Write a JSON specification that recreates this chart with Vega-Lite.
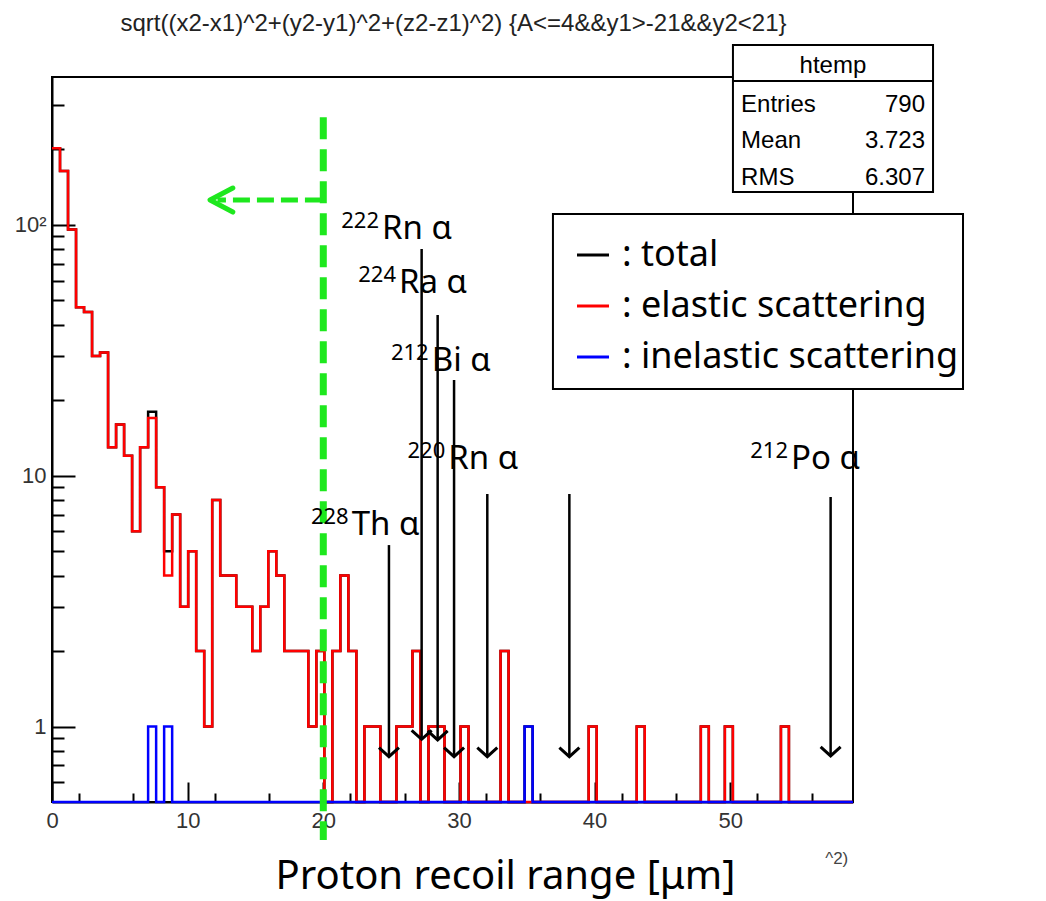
{
  "$schema": "https://vega.github.io/schema/vega-lite/v6.json",
  "width": 801,
  "height": 725,
  "autosize": {"type": "none"},
  "padding": {"left": 52, "top": 77, "right": 193, "bottom": 99},
  "background": "white",
  "config": {
    "view": {"stroke": "black", "strokeWidth": 2},
    "axis": {"grid": false}
  },
  "datasets": {
    "hist": [
      {"x":0,"total":202,"elastic":202,"inelastic":0},
      {"x":0.591,"total":164,"elastic":164,"inelastic":0},
      {"x":1.181,"total":96,"elastic":96,"inelastic":0},
      {"x":1.772,"total":47,"elastic":47,"inelastic":0},
      {"x":2.362,"total":45,"elastic":45,"inelastic":0},
      {"x":2.953,"total":30,"elastic":30,"inelastic":0},
      {"x":3.543,"total":31,"elastic":31,"inelastic":0},
      {"x":4.134,"total":13,"elastic":13,"inelastic":0},
      {"x":4.724,"total":16,"elastic":16,"inelastic":0},
      {"x":5.315,"total":12,"elastic":12,"inelastic":0},
      {"x":5.905,"total":6,"elastic":6,"inelastic":0},
      {"x":6.496,"total":13,"elastic":13,"inelastic":0},
      {"x":7.086,"total":18,"elastic":17,"inelastic":1},
      {"x":7.677,"total":9,"elastic":9,"inelastic":0},
      {"x":8.267,"total":5,"elastic":4,"inelastic":1},
      {"x":8.858,"total":7,"elastic":7,"inelastic":0},
      {"x":9.448,"total":3,"elastic":3,"inelastic":0},
      {"x":10.039,"total":5,"elastic":5,"inelastic":0},
      {"x":10.629,"total":2,"elastic":2,"inelastic":0},
      {"x":11.22,"total":1,"elastic":1,"inelastic":0},
      {"x":11.81,"total":8,"elastic":8,"inelastic":0},
      {"x":12.401,"total":4,"elastic":4,"inelastic":0},
      {"x":12.991,"total":4,"elastic":4,"inelastic":0},
      {"x":13.582,"total":3,"elastic":3,"inelastic":0},
      {"x":14.172,"total":3,"elastic":3,"inelastic":0},
      {"x":14.763,"total":2,"elastic":2,"inelastic":0},
      {"x":15.353,"total":3,"elastic":3,"inelastic":0},
      {"x":15.944,"total":5,"elastic":5,"inelastic":0},
      {"x":16.534,"total":4,"elastic":4,"inelastic":0},
      {"x":17.125,"total":2,"elastic":2,"inelastic":0},
      {"x":17.715,"total":2,"elastic":2,"inelastic":0},
      {"x":18.306,"total":2,"elastic":2,"inelastic":0},
      {"x":18.896,"total":1,"elastic":1,"inelastic":0},
      {"x":19.487,"total":2,"elastic":2,"inelastic":0},
      {"x":20.077,"total":0,"elastic":0,"inelastic":0},
      {"x":20.668,"total":2,"elastic":2,"inelastic":0},
      {"x":21.258,"total":4,"elastic":4,"inelastic":0},
      {"x":21.849,"total":2,"elastic":2,"inelastic":0},
      {"x":22.439,"total":0,"elastic":0,"inelastic":0},
      {"x":23.03,"total":1,"elastic":1,"inelastic":0},
      {"x":23.62,"total":1,"elastic":1,"inelastic":0},
      {"x":24.211,"total":0,"elastic":0,"inelastic":0},
      {"x":24.801,"total":0,"elastic":0,"inelastic":0},
      {"x":25.392,"total":1,"elastic":1,"inelastic":0},
      {"x":25.982,"total":1,"elastic":1,"inelastic":0},
      {"x":26.573,"total":2,"elastic":2,"inelastic":0},
      {"x":27.163,"total":0,"elastic":0,"inelastic":0},
      {"x":27.754,"total":1,"elastic":1,"inelastic":0},
      {"x":28.344,"total":1,"elastic":1,"inelastic":0},
      {"x":28.935,"total":0,"elastic":0,"inelastic":0},
      {"x":29.525,"total":0,"elastic":0,"inelastic":0},
      {"x":30.116,"total":1,"elastic":1,"inelastic":0},
      {"x":30.706,"total":0,"elastic":0,"inelastic":0},
      {"x":31.297,"total":0,"elastic":0,"inelastic":0},
      {"x":31.887,"total":0,"elastic":0,"inelastic":0},
      {"x":32.478,"total":0,"elastic":0,"inelastic":0},
      {"x":33.068,"total":2,"elastic":2,"inelastic":0},
      {"x":33.659,"total":0,"elastic":0,"inelastic":0},
      {"x":34.249,"total":0,"elastic":0,"inelastic":0},
      {"x":34.84,"total":1,"elastic":0,"inelastic":1},
      {"x":35.43,"total":0,"elastic":0,"inelastic":0},
      {"x":36.021,"total":0,"elastic":0,"inelastic":0},
      {"x":36.611,"total":0,"elastic":0,"inelastic":0},
      {"x":37.202,"total":0,"elastic":0,"inelastic":0},
      {"x":37.792,"total":0,"elastic":0,"inelastic":0},
      {"x":38.383,"total":0,"elastic":0,"inelastic":0},
      {"x":38.973,"total":0,"elastic":0,"inelastic":0},
      {"x":39.564,"total":1,"elastic":1,"inelastic":0},
      {"x":40.154,"total":0,"elastic":0,"inelastic":0},
      {"x":40.745,"total":0,"elastic":0,"inelastic":0},
      {"x":41.335,"total":0,"elastic":0,"inelastic":0},
      {"x":41.926,"total":0,"elastic":0,"inelastic":0},
      {"x":42.516,"total":0,"elastic":0,"inelastic":0},
      {"x":43.107,"total":1,"elastic":1,"inelastic":0},
      {"x":43.697,"total":0,"elastic":0,"inelastic":0},
      {"x":44.288,"total":0,"elastic":0,"inelastic":0},
      {"x":44.878,"total":0,"elastic":0,"inelastic":0},
      {"x":45.469,"total":0,"elastic":0,"inelastic":0},
      {"x":46.059,"total":0,"elastic":0,"inelastic":0},
      {"x":46.65,"total":0,"elastic":0,"inelastic":0},
      {"x":47.24,"total":0,"elastic":0,"inelastic":0},
      {"x":47.831,"total":1,"elastic":1,"inelastic":0},
      {"x":48.421,"total":0,"elastic":0,"inelastic":0},
      {"x":49.012,"total":0,"elastic":0,"inelastic":0},
      {"x":49.602,"total":1,"elastic":1,"inelastic":0},
      {"x":50.193,"total":0,"elastic":0,"inelastic":0},
      {"x":50.783,"total":0,"elastic":0,"inelastic":0},
      {"x":51.374,"total":0,"elastic":0,"inelastic":0},
      {"x":51.964,"total":0,"elastic":0,"inelastic":0},
      {"x":52.555,"total":0,"elastic":0,"inelastic":0},
      {"x":53.145,"total":0,"elastic":0,"inelastic":0},
      {"x":53.736,"total":1,"elastic":1,"inelastic":0},
      {"x":54.326,"total":0,"elastic":0,"inelastic":0},
      {"x":54.917,"total":0,"elastic":0,"inelastic":0},
      {"x":55.507,"total":0,"elastic":0,"inelastic":0},
      {"x":56.098,"total":0,"elastic":0,"inelastic":0},
      {"x":56.688,"total":0,"elastic":0,"inelastic":0},
      {"x":57.279,"total":0,"elastic":0,"inelastic":0},
      {"x":57.869,"total":0,"elastic":0,"inelastic":0},
      {"x":58.46,"total":0,"elastic":0,"inelastic":0},
      {"x":59.05,"total":0,"elastic":0,"inelastic":0}
    ],
    "arrows": [
      {"nuclide":"222Rn","x":27.25,"top":80.2,"tip":0.889},
      {"nuclide":"224Ra","x":28.43,"top":43.7,"tip":0.884},
      {"nuclide":"212Bi","x":29.64,"top":24.07,"tip":0.758},
      {"nuclide":"220Rn","x":32.09,"top":8.45,"tip":0.758},
      {"nuclide":"216Po","x":38.14,"top":8.45,"tip":0.758},
      {"nuclide":"212Po","x":57.4,"top":8.22,"tip":0.763},
      {"nuclide":"228Th","x":24.84,"top":5.29,"tip":0.758}
    ],
    "isotopes": [
      {"mass":"222","name":"Rn α","x":24.33,"y":87.9},
      {"mass":"224","name":"Ra α","x":25.58,"y":53.4},
      {"mass":"212","name":"Bi α","x":27.99,"y":26.2},
      {"mass":"220","name":"Rn α","x":29.21,"y":10.6},
      {"mass":"212","name":"Po α","x":54.48,"y":10.6},
      {"mass":"228","name":"Th α","x":22.09,"y":5.8}
    ],
    "stats": [
      {"label":"Entries","value":"790","y":282.2},
      {"label":"Mean","value":"3.723","y":202.6},
      {"label":"RMS","value":"6.307","y":144.2}
    ]
  },
  "resolve": {"scale": {"x": "independent", "y": "independent"}},
  "layer": [
    {
      "data": {"name": "hist"},
      "layer": [
        {
          "mark": {"type": "line", "interpolate": "step-after", "strokeWidth": 2.5, "invalid": "show"},
          "encoding": {
            "x": {"field": "x", "type": "quantitative",
              "scale": {"domain": [0, 59.05], "nice": false, "zero": false},
              "axis": {"orient": "bottom", "values": [0, 10, 20, 30, 40, 50], "tickSize": -20, "tickColor": "black", "tickWidth": 2,
                "domain": true, "domainColor": "black", "domainWidth": 2,
                "labelFont": "Liberation Sans", "labelFontSize": 22, "labelColor": "#333333", "labelPadding": 28,
                "labelFlush": false, "labelOverlap": false,
                "title": "Proton recoil range [μm]", "titleFont": "Noto Sans", "titleFontSize": 40, "titleFontWeight": "normal",
                "titleColor": "black", "titleX": 453, "titleY": 86, "titleAlign": "center", "titleBaseline": "alphabetic"}},
            "y": {"field": "total", "type": "quantitative",
              "scale": {"type": "log", "domain": [0.5, 389], "nice": false, "clamp": true},
              "axis": {"orient": "left", "values": [1, 10, 100], "tickSize": -23, "tickColor": "black", "tickWidth": 2,
                "domain": true, "domainColor": "black", "domainWidth": 2,
                "labelFont": "Liberation Sans", "labelFontSize": 22, "labelColor": "#333333", "labelPadding": 29,
                "labelExpr": "datum.value == 100 ? '10²' : datum.value == 10 ? '10' : '1'", "labelFlush": false, "title": null}},
            "color": {"datum": "total", "type": "nominal",
              "scale": {"domain": ["total", "elastic scattering", "inelastic scattering"], "range": ["#000000", "#ff0000", "#0000ff"]},
              "legend": {"orient": "none", "legendX": 523, "legendY": 160, "title": null, "direction": "vertical",
                "padding": 0, "rowPadding": 15,
                "symbolType": "stroke", "symbolSize": 1024, "symbolStrokeWidth": 3, "labelOffset": 11,
                "labelFont": "Noto Sans", "labelFontSize": 36, "labelColor": "black", "labelLimit": 600,
                "labelExpr": "': ' + datum.label"}}
          }
        },
        {
          "mark": {"type": "line", "interpolate": "step-after", "strokeWidth": 2.5, "invalid": "show"},
          "encoding": {
            "x": {"field": "x", "type": "quantitative"},
            "y": {"field": "elastic", "type": "quantitative"},
            "color": {"datum": "elastic scattering", "type": "nominal"}
          }
        },
        {
          "mark": {"type": "line", "interpolate": "step-after", "strokeWidth": 2.5, "invalid": "show"},
          "encoding": {
            "x": {"field": "x", "type": "quantitative"},
            "y": {"field": "inelastic", "type": "quantitative"},
            "color": {"datum": "inelastic scattering", "type": "nominal"}
          }
        }
      ]
    },
    {
      "layer": [
        {
          "data": {"values": [{"box": "stats", "x": 50.2, "x2": 64.95, "y": 521.7, "y2": 135.3}, {"box": "legend", "x": 36.93, "x2": 67.16, "y": 110.5, "y2": 22.17}]},
          "mark": {"type": "rect", "fill": "white", "stroke": "black", "strokeWidth": 2},
          "encoding": {
            "x": {"field": "x", "type": "quantitative",
              "scale": {"domain": [0, 59.05], "nice": false, "zero": false},
              "axis": {"orient": "bottom", "values": [2, 4, 6, 8, 12, 14, 16, 18, 22, 24, 26, 28, 32, 34, 36, 38, 42, 44, 46, 48, 52, 54, 56, 58],
                "tickSize": -9, "tickColor": "black", "tickWidth": 2, "labels": false, "domain": false, "title": null}},
            "x2": {"field": "x2"},
            "y": {"field": "y", "type": "quantitative",
              "scale": {"type": "log", "domain": [0.5, 389], "nice": false},
              "axis": {"orient": "left", "values": [0.6, 0.7, 0.8, 0.9, 2, 3, 4, 5, 6, 7, 8, 9, 20, 30, 40, 50, 60, 70, 80, 90, 200, 300],
                "tickSize": -12, "tickColor": "black", "tickWidth": 2, "labels": false, "domain": false, "title": null}},
            "y2": {"field": "y2"}
          }
        },
        {
          "data": {"values": [{"x": 50.2, "x2": 64.95, "y": 374.9}]},
          "mark": {"type": "rule", "stroke": "black", "strokeWidth": 2},
          "encoding": {
            "x": {"field": "x", "type": "quantitative"},
            "x2": {"field": "x2"},
            "y": {"field": "y", "type": "quantitative"}
          }
        },
        {
          "data": {"values": [{"t": "htemp", "x": 57.57, "y": 403.5}]},
          "mark": {"type": "text", "font": "Liberation Sans", "fontSize": 24, "align": "center", "baseline": "alphabetic", "color": "black"},
          "encoding": {
            "x": {"field": "x", "type": "quantitative"},
            "y": {"field": "y", "type": "quantitative"},
            "text": {"field": "t"}
          }
        },
        {
          "data": {"name": "stats"},
          "mark": {"type": "text", "font": "Liberation Sans", "fontSize": 24, "align": "left", "baseline": "alphabetic", "color": "black"},
          "encoding": {
            "x": {"datum": 50.8, "type": "quantitative"},
            "y": {"field": "y", "type": "quantitative"},
            "text": {"field": "label"}
          }
        },
        {
          "data": {"name": "stats"},
          "mark": {"type": "text", "font": "Liberation Sans", "fontSize": 24, "align": "right", "baseline": "alphabetic", "color": "black"},
          "encoding": {
            "x": {"datum": 64.36, "type": "quantitative"},
            "y": {"field": "y", "type": "quantitative"},
            "text": {"field": "value"}
          }
        },
        {
          "data": {"values": [{"x": 20.0, "y": 269, "y2": 0.353}]},
          "mark": {"type": "rule", "stroke": "#1ee81e", "strokeWidth": 7, "strokeDash": [22, 10]},
          "encoding": {
            "x": {"field": "x", "type": "quantitative"},
            "y": {"field": "y", "type": "quantitative"},
            "y2": {"field": "y2"}
          }
        },
        {
          "data": {"values": [{"x": 19.9, "x2": 12.2, "y": 125.7}]},
          "mark": {"type": "rule", "stroke": "#1ee81e", "strokeWidth": 5, "strokeDash": [17, 7]},
          "encoding": {
            "x": {"field": "x", "type": "quantitative"},
            "x2": {"field": "x2"},
            "y": {"field": "y", "type": "quantitative"}
          }
        },
        {
          "data": {"values": [{"x": 11.65, "y": 125.7}]},
          "mark": {"type": "point", "shape": "M1.9,-1L0,0L1.9,1", "size": 576, "filled": false, "stroke": "#1ee81e", "strokeWidth": 5, "opacity": 1, "strokeCap": "round", "strokeJoin": "round"},
          "encoding": {
            "x": {"field": "x", "type": "quantitative"},
            "y": {"field": "y", "type": "quantitative"}
          }
        },
        {
          "data": {"name": "arrows"},
          "mark": {"type": "rule", "stroke": "black", "strokeWidth": 2.5},
          "encoding": {
            "x": {"field": "x", "type": "quantitative"},
            "y": {"field": "top", "type": "quantitative"},
            "y2": {"field": "tip"}
          }
        },
        {
          "data": {"name": "arrows"},
          "mark": {"type": "point", "shape": "M-1,-0.9L0,0L1,-0.9", "size": 400, "filled": false, "stroke": "black", "strokeWidth": 3, "opacity": 1},
          "encoding": {
            "x": {"field": "x", "type": "quantitative"},
            "y": {"field": "tip", "type": "quantitative"}
          }
        },
        {
          "data": {"name": "isotopes"},
          "mark": {"type": "text", "font": "Noto Sans", "fontSize": 22, "align": "right", "baseline": "alphabetic", "dx": -3, "dy": -11, "color": "black"},
          "encoding": {
            "x": {"field": "x", "type": "quantitative"},
            "y": {"field": "y", "type": "quantitative"},
            "text": {"field": "mass"}
          }
        },
        {
          "data": {"name": "isotopes"},
          "mark": {"type": "text", "font": "Noto Sans", "fontSize": 33, "align": "left", "baseline": "alphabetic", "color": "black"},
          "encoding": {
            "x": {"field": "x", "type": "quantitative"},
            "y": {"field": "y", "type": "quantitative"},
            "text": {"field": "name"}
          }
        },
        {
          "data": {"values": [{"t": "sqrt((x2-x1)^2+(y2-y1)^2+(z2-z1)^2) {A<=4&&y1>-21&&y2<21}", "x": 29.6, "y": 593}]},
          "mark": {"type": "text", "font": "Liberation Sans", "fontSize": 24, "align": "center", "baseline": "alphabetic", "color": "#222222"},
          "encoding": {
            "x": {"field": "x", "type": "quantitative"},
            "y": {"field": "y", "type": "quantitative"},
            "text": {"field": "t"}
          }
        },
        {
          "data": {"values": [{"t": "^2)", "x": 57.0, "y": 0.283}]},
          "mark": {"type": "text", "font": "Liberation Sans", "fontSize": 17, "align": "left", "baseline": "alphabetic", "color": "#444444"},
          "encoding": {
            "x": {"field": "x", "type": "quantitative"},
            "y": {"field": "y", "type": "quantitative"},
            "text": {"field": "t"}
          }
        }
      ]
    }
  ]
}
